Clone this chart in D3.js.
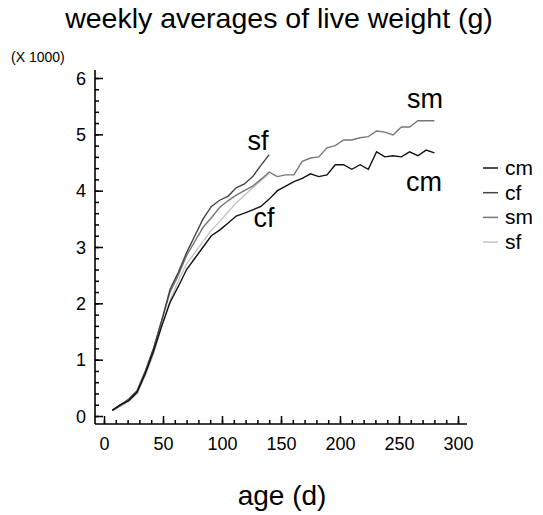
<!DOCTYPE html>
<html>
<head>
<meta charset="utf-8">
<script src="https://cdn.jsdelivr.net/npm/d3@7"></script>
<style>
  body { margin: 0; background: #fff; }
  svg { font-family: "Liberation Sans", Arial, sans-serif; }
</style>
</head>
<body>
<svg width="543" height="515"></svg>
<script>
// weekly ages (d)
var daysLong = [7,14,21,28,35,42,49,56,63,70,77,84,91,98,105,112,119,126,133,140,
  147,154,161,168,175,182,189,196,203,210,217,224,231,238,245,252,259,266,273,280];
var daysShort = daysLong.slice(0, 20);

// live weight, grams
var cm = [100,200,270,420,750,1150,1600,2020,2300,2600,2800,3000,3200,3300,3420,3550,3600,3660,3720,3850,
  4000,4080,4160,4220,4300,4250,4280,4460,4460,4380,4460,4380,4690,4600,4620,4600,4690,4620,4720,4670];
var cf = [100,200,300,450,800,1200,1700,2250,2550,2900,3200,3500,3720,3830,3900,4050,4120,4250,4450,4640];
var sm = [100,180,280,420,780,1200,1700,2200,2500,2850,3100,3350,3520,3700,3820,3920,4000,4080,4200,4330,
  4250,4280,4280,4520,4580,4600,4760,4800,4900,4900,4940,4960,5060,5040,4990,5130,5130,5240,5240,5240];
var sf = [100,180,260,400,720,1100,1600,2050,2400,2700,2900,3100,3300,3450,3620,3780,3920,4050,4180,4300];

var seriesNames = ["cm", "cf", "sm", "sf"];
var seriesColors = ["#111", "#444", "#777", "#c4c4c4"];
var xTicks = [0, 50, 100, 150, 200, 250, 300];
var yTicks = [0, 1000, 2000, 3000, 4000, 5000, 6000];

var series = [
  {name: "cm", days: daysLong, values: cm},
  {name: "cf", days: daysShort, values: cf},
  {name: "sm", days: daysLong, values: sm},
  {name: "sf", days: daysShort, values: sf}
];

var svg = d3.select("svg");

var x = d3.scaleLinear().domain([0, 300]).range([104, 458]);
var y = d3.scaleLinear().domain([0, 6000]).range([416, 78]);

var axisX0 = 95, axisY0 = 424;

svg.append("text")
  .attr("x", 279).attr("y", 28)
  .attr("text-anchor", "middle")
  .style("font-size", "28.5px")
  .text("weekly averages of live weight (g)");

svg.append("text")
  .attr("x", 282).attr("y", 505)
  .attr("text-anchor", "middle")
  .style("font-size", "28px")
  .text("age (d)");

svg.append("text")
  .attr("x", 11).attr("y", 62)
  .style("font-size", "14px")
  .text("(X 1000)");

// axis lines
svg.append("line")
  .attr("x1", axisX0).attr("x2", axisX0)
  .attr("y1", 70).attr("y2", axisY0)
  .attr("stroke", "#000").attr("stroke-width", 1.6);
svg.append("line")
  .attr("x1", axisX0).attr("x2", 467)
  .attr("y1", axisY0).attr("y2", axisY0)
  .attr("stroke", "#000").attr("stroke-width", 1.6);

// y axis
svg.append("g")
  .attr("transform", "translate(" + axisX0 + ",0)")
  .call(d3.axisLeft(y).tickValues(d3.range(0, 6001, 200)).tickSize(-4).tickFormat(""));
var yMajor = svg.append("g")
  .attr("transform", "translate(" + axisX0 + ",0)")
  .call(d3.axisLeft(y).tickValues(yTicks).tickSize(-8).tickPadding(9)
    .tickFormat(function(d) { return d / 1000; }));

// x axis
svg.append("g")
  .attr("transform", "translate(0," + axisY0 + ")")
  .call(d3.axisBottom(x).tickValues(d3.range(0, 301, 10)).tickSize(-4).tickFormat(""));
svg.append("g")
  .attr("transform", "translate(0," + axisY0 + ")")
  .call(d3.axisBottom(x).tickValues(xTicks).tickSize(-8).tickPadding(13));

svg.selectAll(".domain").remove();
svg.selectAll(".tick line").attr("stroke", "#000").attr("stroke-width", 1.5);
svg.selectAll(".tick text")
  .attr("fill", "#000")
  .style("font-size", "18px")
  .style("font-family", "'Liberation Sans', Arial, sans-serif");
yMajor.selectAll(".tick text").attr("dy", "0.35em");

// series
var line = d3.line()
  .x(function(d) { return x(d[0]); })
  .y(function(d) { return y(d[1]); });

// draw order: sf underneath, then sm, cf, cm
[3, 2, 1, 0].forEach(function(i) {
  var s = series[i];
  var pts = s.days.map(function(d, j) { return [d, s.values[j]]; });
  svg.append("path")
    .datum(pts)
    .attr("d", line)
    .attr("fill", "none")
    .attr("stroke", seriesColors[i])
    .attr("stroke-width", 1.4);
});

// labels on the plot
var annot = [
  {t: "sf", x: 258, y: 150},
  {t: "sm", x: 425, y: 108},
  {t: "cm", x: 424, y: 191},
  {t: "cf", x: 264, y: 227}
];
svg.selectAll(".annot").data(annot).enter()
  .append("text")
  .attr("class", "annot")
  .attr("x", function(d) { return d.x; })
  .attr("y", function(d) { return d.y; })
  .attr("text-anchor", "middle")
  .style("font-size", "27px")
  .text(function(d) { return d.t; });

// legend
var legend = svg.append("g");
seriesNames.forEach(function(n, i) {
  var ly = 168 + i * 24.7;
  legend.append("line")
    .attr("x1", 483).attr("x2", 498)
    .attr("y1", ly).attr("y2", ly)
    .attr("stroke", seriesColors[i]).attr("stroke-width", 1.5);
  legend.append("text")
    .attr("x", 505).attr("y", ly + 7)
    .style("font-size", "21px")
    .text(n);
});
</script>
</body>
</html>
